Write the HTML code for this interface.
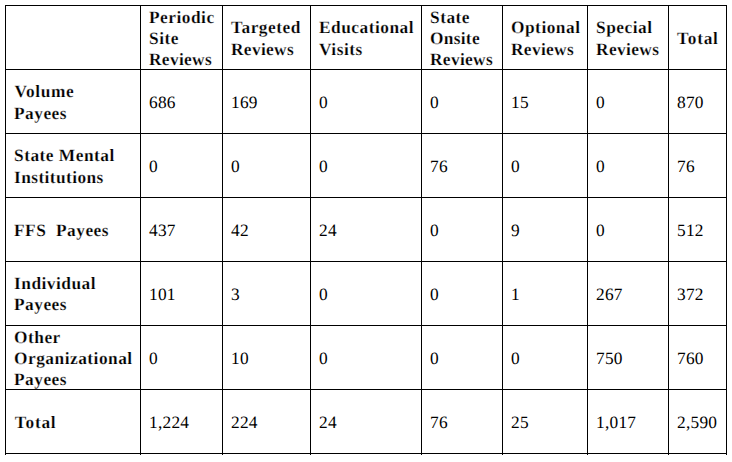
<!DOCTYPE html>
<html lang="en">
<head>
<meta charset="utf-8">
<title>Reviews by payee type</title>
<style>
html,body{margin:0;padding:0;background:#fff;}
body{width:732px;height:462px;position:relative;overflow:hidden;font-family:"Liberation Serif",serif;font-size:17.33px;line-height:20px;color:#000;letter-spacing:0.5px;text-rendering:geometricPrecision;}
.v,.h{position:absolute;background:#000;}
.v{width:1px;top:5px;height:450px;}
.h{height:1px;left:5px;width:722px;}
.t{position:absolute;white-space:nowrap;height:20px;}
.b{font-weight:bold;-webkit-text-stroke:0.2px #fff;}
.n{letter-spacing:0.25px;}
</style>
</head>
<body>

<div class="v" style="left:5px"></div>
<div class="v" style="left:140px"></div>
<div class="v" style="left:222px"></div>
<div class="v" style="left:310px"></div>
<div class="v" style="left:421px"></div>
<div class="v" style="left:502px"></div>
<div class="v" style="left:587px"></div>
<div class="v" style="left:668px"></div>
<div class="v" style="left:726px"></div>
<div class="h" style="top:5px"></div>
<div class="h" style="top:69px"></div>
<div class="h" style="top:133px"></div>
<div class="h" style="top:197px"></div>
<div class="h" style="top:261px"></div>
<div class="h" style="top:325px"></div>
<div class="h" style="top:389px"></div>
<div class="h" style="top:453px"></div>
<div class="t b" style="left:149px;top:8px">Periodic</div>
<div class="t b" style="left:149px;top:29px">Site</div>
<div class="t b" style="left:149px;top:50px;letter-spacing:0.35px">Reviews</div>
<div class="t b" style="left:231px;top:18px">Targeted</div>
<div class="t b" style="left:231px;top:40px;letter-spacing:0.35px">Reviews</div>
<div class="t b" style="left:319px;top:18px">Educational</div>
<div class="t b" style="left:319px;top:40px">Visits</div>
<div class="t b" style="left:430px;top:8px">State</div>
<div class="t b" style="left:430px;top:29px;letter-spacing:0.3px">Onsite</div>
<div class="t b" style="left:430px;top:50px;letter-spacing:0.35px">Reviews</div>
<div class="t b" style="left:511px;top:18px">Optional</div>
<div class="t b" style="left:511px;top:40px;letter-spacing:0.35px">Reviews</div>
<div class="t b" style="left:596px;top:18px">Special</div>
<div class="t b" style="left:596px;top:40px;letter-spacing:0.4px">Reviews</div>
<div class="t b" style="left:677px;top:29px;letter-spacing:0.75px">Total</div>
<div class="t b" style="left:14.5px;top:82px;letter-spacing:0.6px">Volume</div>
<div class="t b" style="left:14px;top:104px">Payees</div>
<div class="t n" style="left:149px;top:93px">686</div>
<div class="t n" style="left:231px;top:93px">169</div>
<div class="t n" style="left:319px;top:93px">0</div>
<div class="t n" style="left:430px;top:93px">0</div>
<div class="t n" style="left:511px;top:93px">15</div>
<div class="t n" style="left:596px;top:93px">0</div>
<div class="t n" style="left:677px;top:93px">870</div>
<div class="t b" style="left:14px;top:146px">State Mental</div>
<div class="t b" style="left:14px;top:168px;letter-spacing:0.42px">Institutions</div>
<div class="t n" style="left:149px;top:157px">0</div>
<div class="t n" style="left:231px;top:157px">0</div>
<div class="t n" style="left:319px;top:157px">0</div>
<div class="t n" style="left:430px;top:157px">76</div>
<div class="t n" style="left:511px;top:157px">0</div>
<div class="t n" style="left:596px;top:157px">0</div>
<div class="t n" style="left:677px;top:157px">76</div>
<div class="t b" style="left:14px;top:221px">FFS&nbsp; Payees</div>
<div class="t n" style="left:149px;top:221px">437</div>
<div class="t n" style="left:231px;top:221px">42</div>
<div class="t n" style="left:319px;top:221px">24</div>
<div class="t n" style="left:430px;top:221px">0</div>
<div class="t n" style="left:511px;top:221px">9</div>
<div class="t n" style="left:596px;top:221px">0</div>
<div class="t n" style="left:677px;top:221px">512</div>
<div class="t b" style="left:14px;top:274px">Individual</div>
<div class="t b" style="left:14px;top:295px">Payees</div>
<div class="t n" style="left:149px;top:285px">101</div>
<div class="t n" style="left:231px;top:285px">3</div>
<div class="t n" style="left:319px;top:285px">0</div>
<div class="t n" style="left:430px;top:285px">0</div>
<div class="t n" style="left:511px;top:285px">1</div>
<div class="t n" style="left:596px;top:285px">267</div>
<div class="t n" style="left:677px;top:285px">372</div>
<div class="t b" style="left:14px;top:328px">Other</div>
<div class="t b" style="left:14px;top:349px">Organizational</div>
<div class="t b" style="left:14px;top:370px">Payees</div>
<div class="t n" style="left:149px;top:349px">0</div>
<div class="t n" style="left:231px;top:349px">10</div>
<div class="t n" style="left:319px;top:349px">0</div>
<div class="t n" style="left:430px;top:349px">0</div>
<div class="t n" style="left:511px;top:349px">0</div>
<div class="t n" style="left:596px;top:349px">750</div>
<div class="t n" style="left:677px;top:349px">760</div>
<div class="t b" style="left:14.8px;top:413px;letter-spacing:0.75px">Total</div>
<div class="t n" style="left:149px;top:413px">1,224</div>
<div class="t n" style="left:231px;top:413px">224</div>
<div class="t n" style="left:319px;top:413px">24</div>
<div class="t n" style="left:430px;top:413px">76</div>
<div class="t n" style="left:511px;top:413px">25</div>
<div class="t n" style="left:596px;top:413px">1,017</div>
<div class="t n" style="left:677px;top:413px">2,590</div>
</body>
</html>
